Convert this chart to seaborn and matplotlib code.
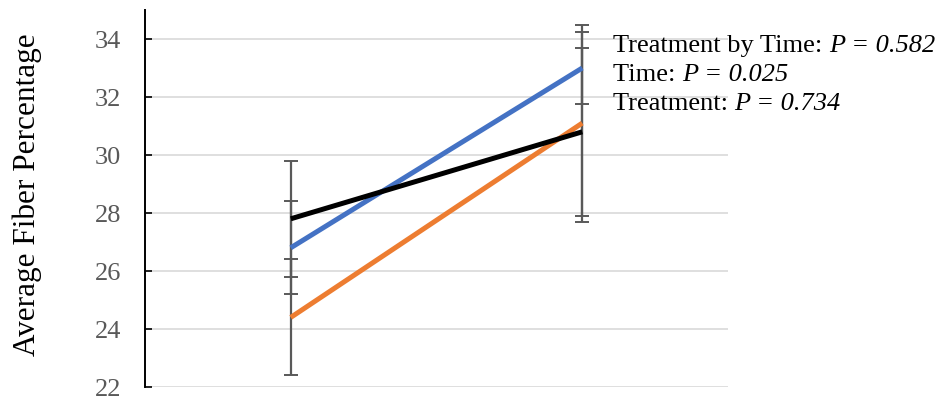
import matplotlib
matplotlib.use("Agg")
import matplotlib.pyplot as plt
import seaborn as sns
import pandas as pd

# Mean fiber percentage at two sampling times, with their error bars
times = ["Time 1", "Time 2"]
group_a = [26.8, 33.0]
group_b = [24.4, 31.1]
group_c = [27.8, 30.8]
err_a = [1.6, 1.25]
err_b = [2.0, 3.4]
err_c = [2.0, 2.9]

groups = ["Group A", "Group B", "Group C"]
colors = ["#4472C4", "#ED7D31", "#000000"]
y_ticks = [22, 24, 26, 28, 30, 32, 34]
stats_lines = [
    ("Treatment by Time: ", "0.582"),
    ("Time: ", "0.025"),
    ("Treatment: ", "0.734"),
]

df = pd.DataFrame({
    "time": times * 3,
    "group": [g for g in groups for _ in times],
    "fiber": group_a + group_b + group_c,
    "err": err_a + err_b + err_c,
})

sns.set_theme(style="white")
plt.rcParams["font.family"] = ["Liberation Serif", "DejaVu Serif"]

fig = plt.figure(figsize=(9.43, 3.97), dpi=100)
ax = fig.add_axes([145 / 943, 1 - 387 / 397, (728 - 145) / 943, 377 / 397])

sns.lineplot(data=df, x="time", y="fiber", hue="group", hue_order=groups,
             palette=colors, linewidth=3.6, legend=False, ax=ax, zorder=3,
             solid_capstyle="butt")

# error bars, drawn from the same table through the categorical x positions
xpos = {t: i for i, t in enumerate(times)}
ax.errorbar([xpos[t] for t in df["time"]], df["fiber"], yerr=df["err"],
            fmt="none", ecolor="#595959", elinewidth=1.6, capsize=5,
            capthick=1.4, zorder=2)

ax.set_xlim(-0.5, 1.5)
ax.set_ylim(22, 35)
ax.set_yticks(y_ticks)
ax.set_xticks([])
ax.set_xlabel("")
ax.set_ylabel("Average Fiber Percentage", fontsize=22.5, color="black")
ax.yaxis.set_label_coords((42 - 145) / 583, (387 - 195) / 377)
ax.yaxis.grid(True, color="#D9D9D9", linewidth=1.2)
ax.set_axisbelow(True)
for side in ["top", "right", "bottom"]:
    ax.spines[side].set_visible(False)
ax.spines["left"].set_color("black")
ax.spines["left"].set_linewidth(1.4)
ax.tick_params(axis="y", which="major", left=True, direction="in", length=5,
               width=1.2, color="black", labelsize=19, labelcolor="#595959",
               pad=17)

# statistics annotation to the right of the plot area
for i, (label, pval) in enumerate(stats_lines):
    y = 1 - (52 + 29 * i) / 397
    t = fig.text(613 / 943, y, label, fontsize=19, color="black", va="baseline")
    fig.canvas.draw()
    bb = t.get_window_extent()
    fig.text(bb.x1 / fig.bbox.width, y, f"P = {pval}", fontsize=19,
             style="italic", color="black", va="baseline")

fig.savefig("out.png", dpi=100)
